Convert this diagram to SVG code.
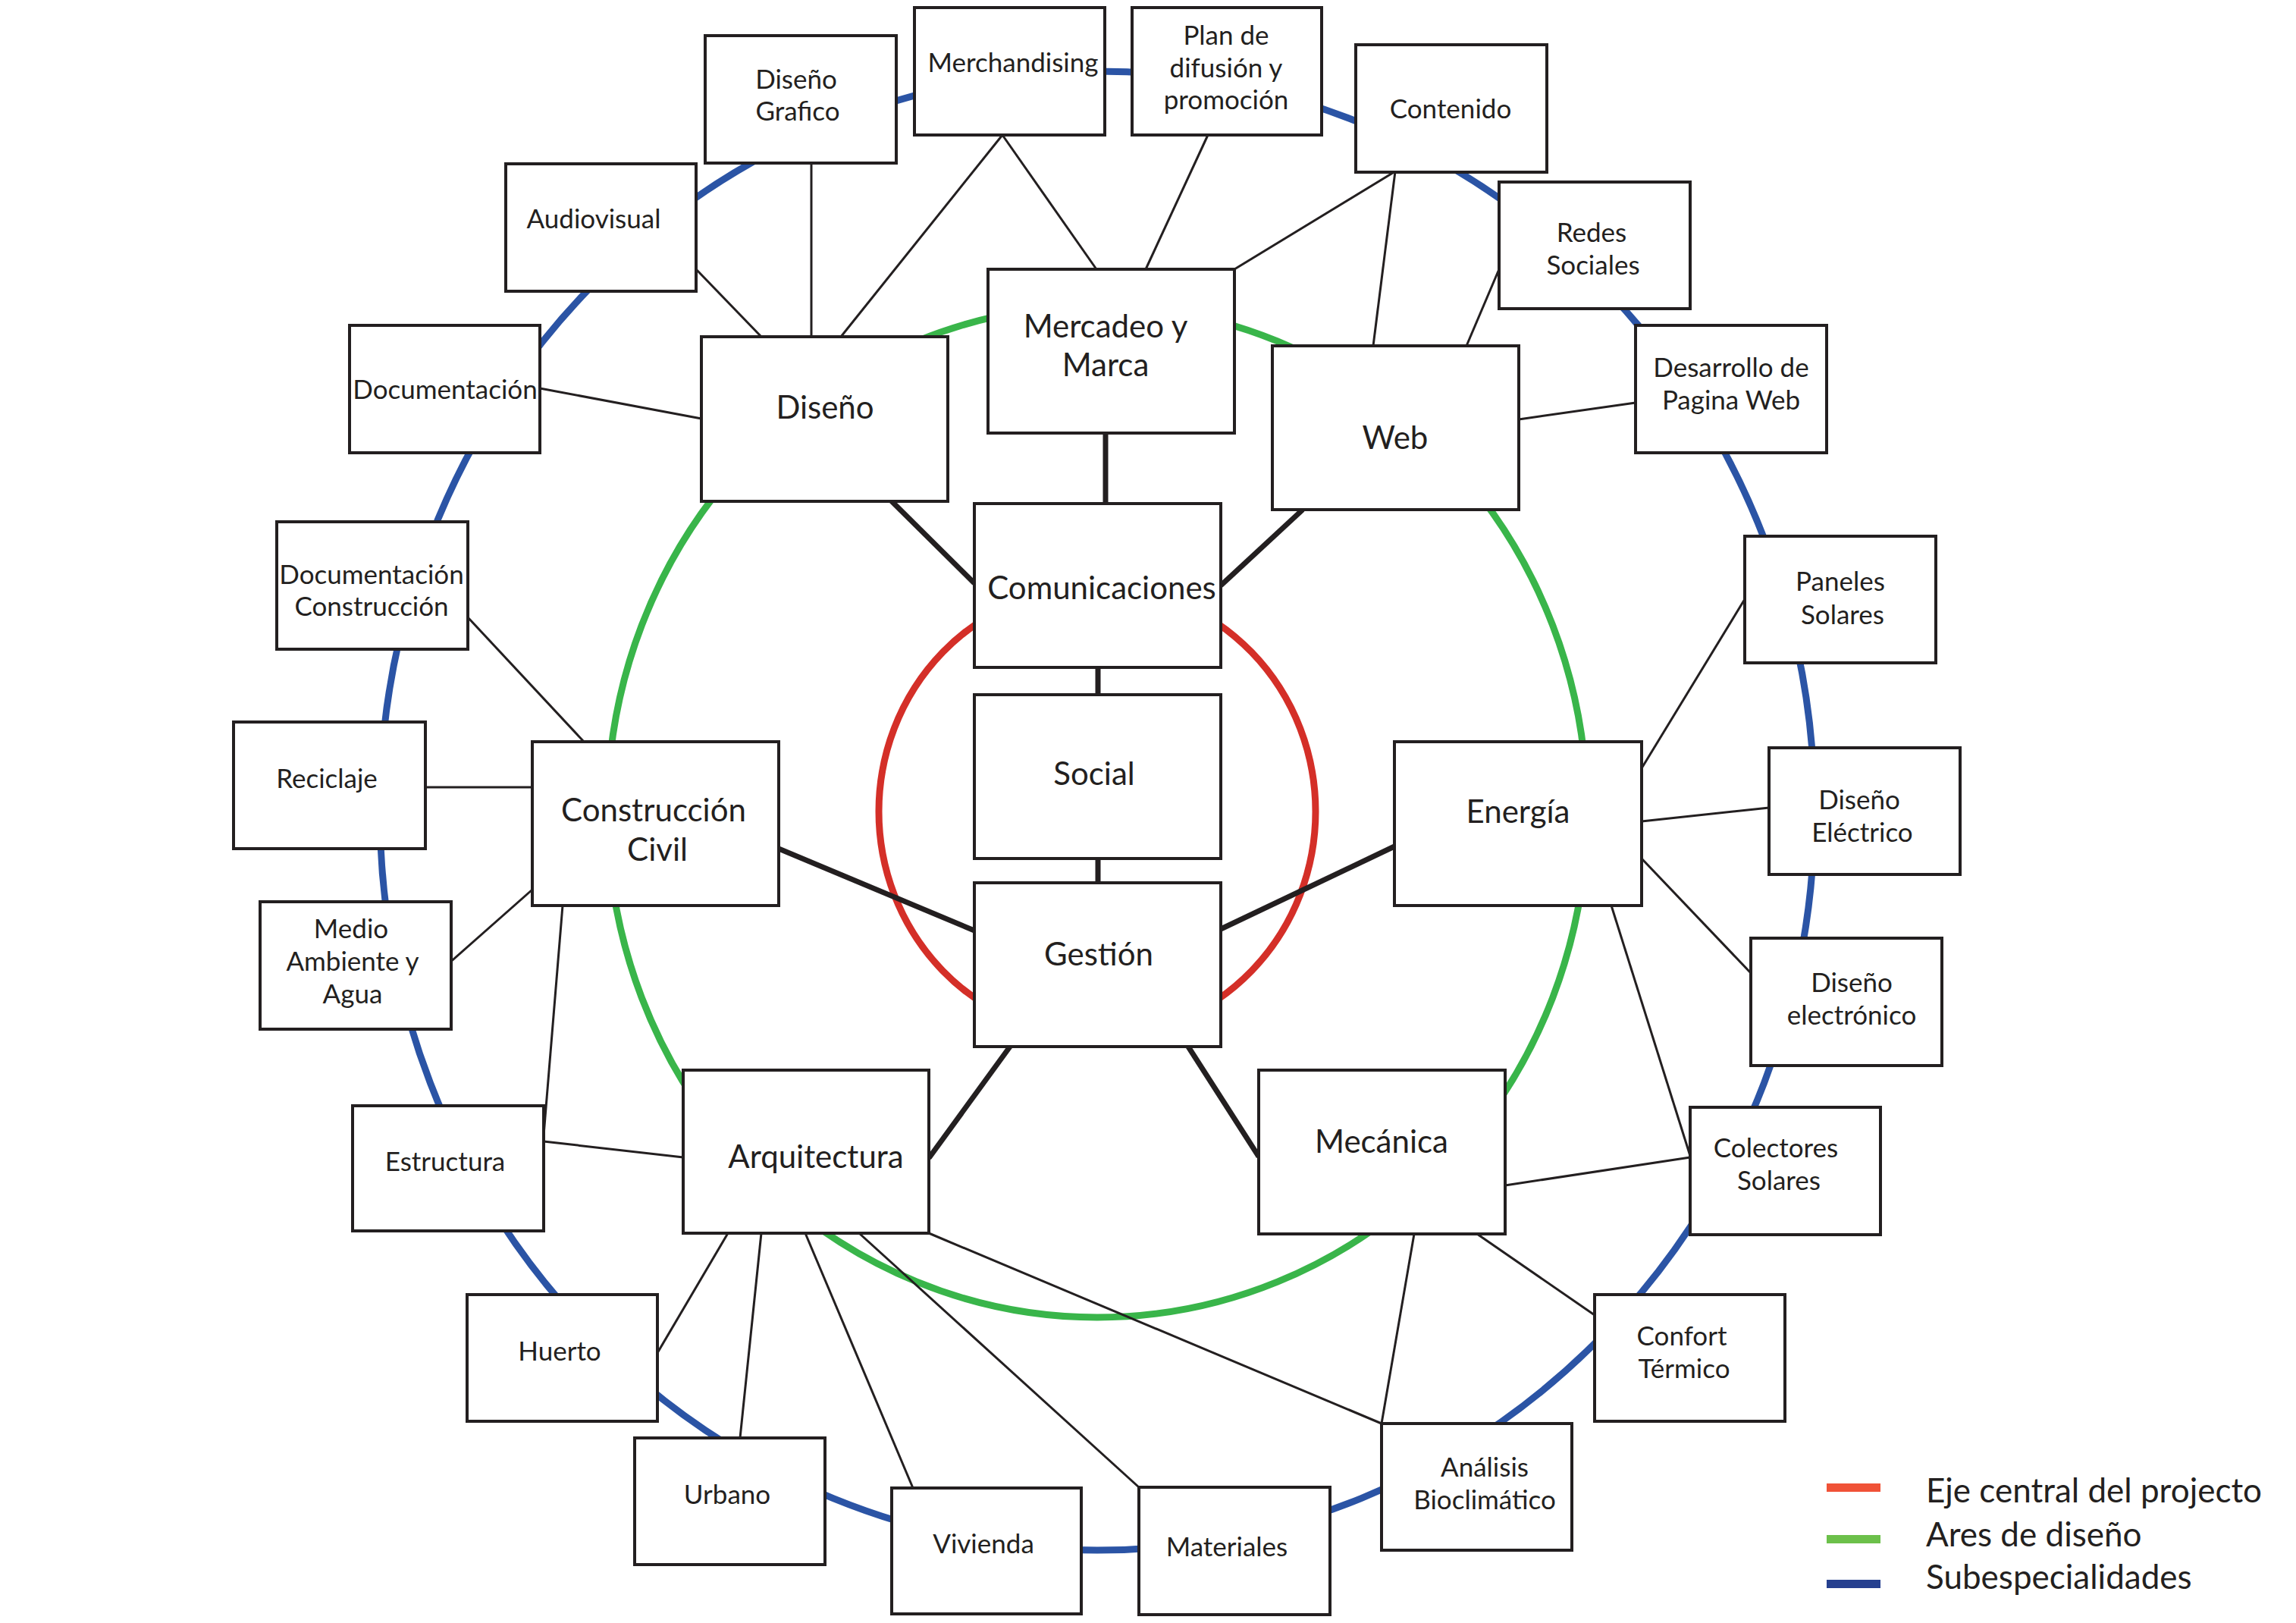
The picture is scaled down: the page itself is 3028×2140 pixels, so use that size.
<svg xmlns="http://www.w3.org/2000/svg" width="3028" height="2140" viewBox="0 0 3028 2140">
<style>
.bg{fill:#ffffff}
.ring{fill:none;stroke-width:9}
.box{fill:#ffffff;stroke:#231f20;stroke-width:4}
.t{font-family:Lato,"Liberation Sans",sans-serif;fill:#231f20;text-anchor:middle}
.s{font-size:35px}
.b{font-size:42px}
.thin{stroke:#231f20;stroke-width:3;fill:none}
.thick{stroke:#231f20;stroke-width:7;fill:none}
.leg{font-family:Lato,"Liberation Sans",sans-serif;fill:#231f20;font-size:44px}
</style>
<rect class="bg" x="0" y="0" width="3028" height="2140"/>
<g id="rings">
<ellipse class="ring" cx="1447" cy="1069" rx="946" ry="975" stroke="#2b54a5"/>
<ellipse class="ring" cx="1447" cy="1070" rx="646" ry="667" stroke="#39b54a"/>
<ellipse class="ring" cx="1447" cy="1070" rx="288" ry="297" stroke="#d42f28"/>
</g>
<g id="connectors">
<line class="thin" x1="1070" y1="216" x2="1070" y2="444"/>
<line class="thin" x1="1322" y1="178" x2="1109" y2="444"/>
<line class="thin" x1="1322" y1="178" x2="1446" y2="355"/>
<line class="thin" x1="918" y1="355" x2="1004" y2="444"/>
<line class="thin" x1="712" y1="512" x2="925" y2="552"/>
<line class="thin" x1="1593" y1="178" x2="1511" y2="355"/>
<line class="thin" x1="1840" y1="226" x2="1628" y2="355"/>
<line class="thin" x1="1840" y1="226" x2="1811" y2="456"/>
<line class="thin" x1="1977" y1="355" x2="1934" y2="456"/>
<line class="thin" x1="2003" y1="553" x2="2157" y2="531"/>
<line class="thin" x1="617" y1="814" x2="770" y2="978"/>
<line class="thin" x1="561" y1="1038" x2="702" y2="1038"/>
<line class="thin" x1="591" y1="1271" x2="702" y2="1173"/>
<line class="thin" x1="742" y1="1194" x2="717" y2="1497"/>
<line class="thin" x1="717" y1="1505" x2="901" y2="1526"/>
<line class="thin" x1="2165" y1="1013" x2="2301" y2="790"/>
<line class="thin" x1="2165" y1="1083" x2="2333" y2="1065"/>
<line class="thin" x1="2165" y1="1132" x2="2309" y2="1283"/>
<line class="thin" x1="2125" y1="1194" x2="2229" y2="1524"/>
<line class="thin" x1="1985" y1="1563" x2="2229" y2="1526"/>
<line class="thin" x1="1865" y1="1627" x2="1822" y2="1877"/>
<line class="thin" x1="1948" y1="1627" x2="2103" y2="1734"/>
<line class="thin" x1="960" y1="1626" x2="864" y2="1789"/>
<line class="thin" x1="1004" y1="1626" x2="976" y2="1896"/>
<line class="thin" x1="1062" y1="1626" x2="1204" y2="1962"/>
<line class="thin" x1="1133" y1="1626" x2="1502" y2="1961"/>
<line class="thin" x1="1225" y1="1626" x2="1822" y2="1877"/>
<line class="thick" x1="1458" y1="571" x2="1458" y2="664"/>
<line class="thick" x1="1175" y1="660" x2="1285" y2="769"/>
<line class="thick" x1="1718" y1="672" x2="1610" y2="772"/>
<line class="thick" x1="1448" y1="880" x2="1448" y2="916"/>
<line class="thick" x1="1448" y1="1132" x2="1448" y2="1164"/>
<line class="thick" x1="1027" y1="1119" x2="1285" y2="1227"/>
<line class="thick" x1="1839" y1="1116" x2="1610" y2="1225"/>
<line class="thick" x1="1332" y1="1380" x2="1225" y2="1527"/>
<line class="thick" x1="1567" y1="1380" x2="1660" y2="1525"/>
</g>
<g id="n-diseno-grafico"><rect class="box" x="930" y="47" width="252" height="168"/><text class="t s" x="1050" y="117">Diseño</text><text class="t s" x="1052" y="159">Grafico</text></g>
<g id="n-merchandising"><rect class="box" x="1206" y="10" width="251" height="168"/><text class="t s" x="1336" y="95">Merchandising</text></g>
<g id="n-plan"><rect class="box" x="1493" y="10" width="250" height="168"/><text class="t s" x="1617" y="59">Plan de</text><text class="t s" x="1617" y="102">difusión y</text><text class="t s" x="1617" y="144">promoción</text></g>
<g id="n-contenido"><rect class="box" x="1788" y="59" width="252" height="168"/><text class="t s" x="1913" y="156">Contenido</text></g>
<g id="n-redes"><rect class="box" x="1977" y="240" width="252" height="167"/><text class="t s" x="2099" y="319">Redes</text><text class="t s" x="2101" y="362">Sociales</text></g>
<g id="n-desarrollo"><rect class="box" x="2157" y="429" width="252" height="168"/><text class="t s" x="2283" y="497">Desarrollo de</text><text class="t s" x="2283" y="540">Pagina Web</text></g>
<g id="n-audiovisual"><rect class="box" x="667" y="216" width="251" height="168"/><text class="t s" x="783" y="301">Audiovisual</text></g>
<g id="n-documentacion"><rect class="box" x="461" y="429" width="251" height="168"/><text class="t s" x="587" y="526">Documentación</text></g>
<g id="n-doc-construccion"><rect class="box" x="365" y="688" width="252" height="168"/><text class="t s" x="490" y="770">Documentación</text><text class="t s" x="490" y="812">Construcción</text></g>
<g id="n-reciclaje"><rect class="box" x="308" y="952" width="253" height="167"/><text class="t s" x="431" y="1039">Reciclaje</text></g>
<g id="n-medio"><rect class="box" x="343" y="1189" width="252" height="168"/><text class="t s" x="463" y="1237">Medio</text><text class="t s" x="465" y="1280">Ambiente y</text><text class="t s" x="465" y="1323">Agua</text></g>
<g id="n-estructura"><rect class="box" x="465" y="1458" width="252" height="165"/><text class="t s" x="587" y="1544">Estructura</text></g>
<g id="n-huerto"><rect class="box" x="616" y="1707" width="251" height="167"/><text class="t s" x="738" y="1794">Huerto</text></g>
<g id="n-urbano"><rect class="box" x="837" y="1896" width="251" height="167"/><text class="t s" x="959" y="1983">Urbano</text></g>
<g id="n-vivienda"><rect class="box" x="1176" y="1962" width="250" height="166"/><text class="t s" x="1297" y="2048">Vivienda</text></g>
<g id="n-materiales"><rect class="box" x="1502" y="1961" width="252" height="168"/><text class="t s" x="1618" y="2052">Materiales</text></g>
<g id="n-analisis"><rect class="box" x="1822" y="1877" width="251" height="167"/><text class="t s" x="1958" y="1947">Análisis</text><text class="t s" x="1958" y="1990">Bioclimático</text></g>
<g id="n-confort"><rect class="box" x="2103" y="1707" width="251" height="167"/><text class="t s" x="2218" y="1774">Confort</text><text class="t s" x="2221" y="1817">Térmico</text></g>
<g id="n-colectores"><rect class="box" x="2229" y="1460" width="251" height="168"/><text class="t s" x="2342" y="1526">Colectores</text><text class="t s" x="2346" y="1569">Solares</text></g>
<g id="n-diseno-electronico"><rect class="box" x="2309" y="1237" width="252" height="168"/><text class="t s" x="2442" y="1308">Diseño</text><text class="t s" x="2442" y="1351">electrónico</text></g>
<g id="n-diseno-electrico"><rect class="box" x="2333" y="986" width="252" height="167"/><text class="t s" x="2452" y="1067">Diseño</text><text class="t s" x="2456" y="1110">Eléctrico</text></g>
<g id="n-paneles"><rect class="box" x="2301" y="707" width="252" height="167"/><text class="t s" x="2427" y="779">Paneles</text><text class="t s" x="2430" y="823">Solares</text></g>
<g id="n-diseno"><rect class="box" x="925" y="444" width="325" height="217"/><text class="t b" x="1088" y="552">Diseño</text></g>
<g id="n-mercadeo"><rect class="box" x="1303" y="355" width="325" height="216"/><text class="t b" x="1458" y="445">Mercadeo y</text><text class="t b" x="1458" y="496">Marca</text></g>
<g id="n-web"><rect class="box" x="1678" y="456" width="325" height="216"/><text class="t b" x="1840" y="592">Web</text></g>
<g id="n-comunicaciones"><rect class="box" x="1285" y="664" width="325" height="216"/><text class="t b" x="1453" y="790">Comunicaciones</text></g>
<g id="n-social"><rect class="box" x="1285" y="916" width="325" height="216"/><text class="t b" x="1443" y="1035">Social</text></g>
<g id="n-gestion"><rect class="box" x="1285" y="1164" width="325" height="216"/><text class="t b" x="1449" y="1273">Gestión</text></g>
<g id="n-construccion-civil"><rect class="box" x="702" y="978" width="325" height="216"/><text class="t b" x="862" y="1083">Construcción</text><text class="t b" x="867" y="1135">Civil</text></g>
<g id="n-energia"><rect class="box" x="1839" y="978" width="326" height="216"/><text class="t b" x="2002" y="1085">Energía</text></g>
<g id="n-arquitectura"><rect class="box" x="901" y="1411" width="324" height="215"/><text class="t b" x="1076" y="1540">Arquitectura</text></g>
<g id="n-mecanica"><rect class="box" x="1660" y="1411" width="325" height="216"/><text class="t b" x="1822" y="1520">Mecánica</text></g>
<g id="legend">
<rect x="2409" y="1956" width="71" height="11" fill="#f05237"/>
<rect x="2409" y="2024" width="71" height="11" fill="#6cc04a"/>
<rect x="2409" y="2083" width="71" height="11" fill="#26408f"/>
<text class="leg" x="2540" y="1981">Eje central del projecto</text>
<text class="leg" x="2540" y="2039">Ares de diseño</text>
<text class="leg" x="2540" y="2095">Subespecialidades</text>
</g>
</svg>
